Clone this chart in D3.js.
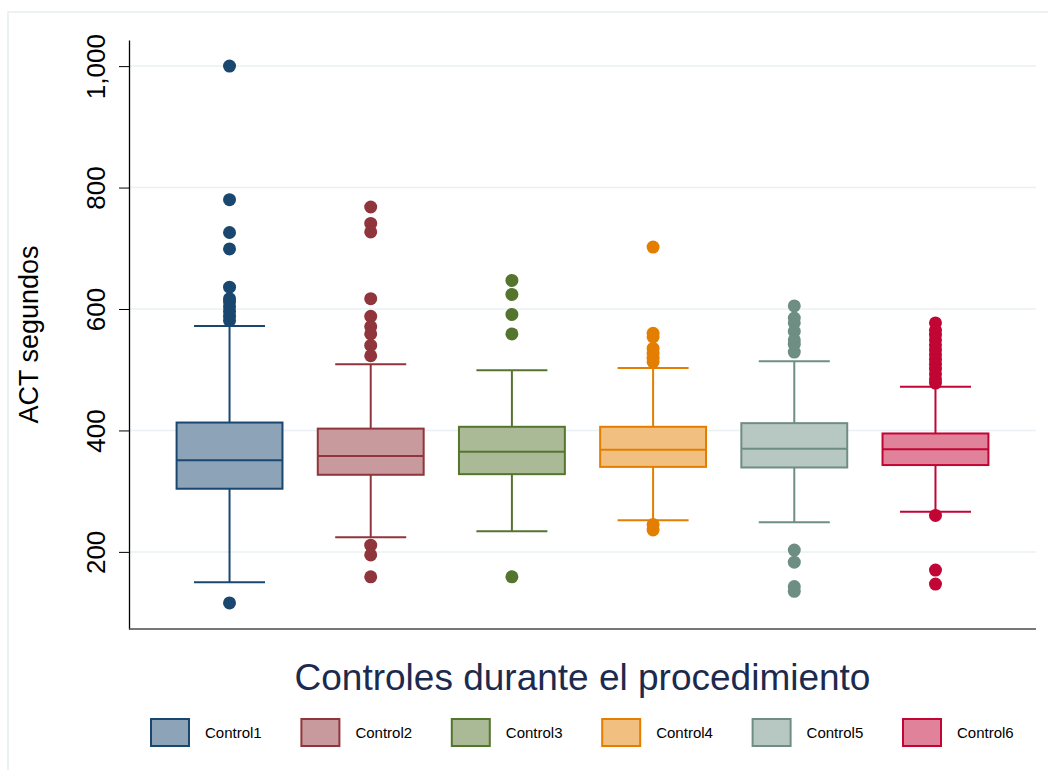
<!DOCTYPE html>
<html>
<head>
<meta charset="utf-8">
<script src="https://cdn.jsdelivr.net/npm/d3@7"></script>
<style>
  body { margin: 0; background: #fff; }
  svg { display: block; font-family: 'Liberation Sans', Arial, sans-serif; }
</style>
</head>
<body>
<div id="chart"></div>
<script>
'use strict';

// groups and colours
const groups = ['Control1', 'Control2', 'Control3', 'Control4', 'Control5', 'Control6'];
const line_colors = ['#1a476f', '#90353b', '#55752f', '#e37e00', '#6e8e84', '#c10534'];

// box statistics (ACT seconds)
const whisker_low = [150, 224, 234, 252, 249, 266];
const q1 = [304, 327, 328, 340, 339, 343];
const median = [351, 358, 365, 368, 370, 369];
const q3 = [413, 403, 406, 406, 412, 395];
const whisker_high = [572, 509, 499, 503, 514, 472];

// outside values
const outliers_c1 = [1000, 780, 726, 699, 636, 617, 612, 604, 596, 588, 581, 116];
const outliers_c2 = [768, 741, 727, 617, 588, 571, 559, 540, 523, 211, 195, 159];
const outliers_c3 = [647, 624, 591, 559, 159];
const outliers_c4 = [702, 560, 554, 535, 527, 519, 513, 245, 236];
const outliers_c5 = [605, 585, 577, 563, 549, 542, 529, 203, 183, 143, 135];
const outliers_c6 = [577, 565, 557, 549, 541, 533, 525, 517, 509, 501, 493, 485, 478, 260, 170, 147];
const outliers = [outliers_c1, outliers_c2, outliers_c3, outliers_c4, outliers_c5, outliers_c6];

const y_ticks = [200, 400, 600, 800, 1000];
const y_domain = [73, 1043];
const x_title = 'Controles durante el procedimiento';
const y_title = 'ACT segundos';

// dimensions
const dimensions = {
  width: 1048,
  height: 770,
  margin: { top: 40, bottom: 141, left: 129, right: 12 }
}
dimensions.ctrWidth = dimensions.width - dimensions.margin.left - dimensions.margin.right
dimensions.ctrHeight = dimensions.height - dimensions.margin.top - dimensions.margin.bottom

const boxes = groups.map((g, i) => {
  return {
    key: g,
    color: line_colors[i],
    fill: d3.interpolateRgb(line_colors[i], '#ffffff')(0.5),
    lo: whisker_low[i], q1: q1[i], med: median[i], q3: q3[i], hi: whisker_high[i],
    out: outliers[i]
  }
})

const svg_el = d3.select('#chart')
  .append('svg')
  .attr('width', dimensions.width)
  .attr('height', dimensions.height)

// outer graph region border (cropped on the right and bottom)
svg_el.append('rect')
  .attr('x', 8)
  .attr('y', 12)
  .attr('width', dimensions.width + 20)
  .attr('height', dimensions.height + 20)
  .attr('fill', 'none')
  .attr('stroke', '#e6edf0')
  .attr('stroke-width', 1.5)

const chart_g = svg_el.append('g')
  .attr('transform', `translate(${dimensions.margin.left}, ${dimensions.margin.top})`)

// scales
const x_scale = d3.scaleBand()
  .domain(groups)
  .range([0, 907])
  .paddingInner(0.25)
  .paddingOuter(0.337)

const y_scale = d3.scaleLinear()
  .domain(y_domain)
  .range([dimensions.ctrHeight, 0])

const cap_w = x_scale.step() * 0.503

// gridlines
chart_g.append('g')
  .selectAll('line')
  .data(y_ticks)
  .join('line')
  .attr('x1', 0)
  .attr('x2', 907)
  .attr('y1', d => y_scale(d))
  .attr('y2', d => y_scale(d))
  .attr('stroke', '#eaf0f3')
  .attr('stroke-width', 1.5)

// boxes
const box_g = chart_g.append('g')
  .selectAll('g')
  .data(boxes)
  .join('g')
  .attr('transform', d => `translate(${x_scale(d.key)},0)`)

const bw = x_scale.bandwidth()

// whiskers
box_g.append('line')
  .attr('x1', bw / 2).attr('x2', bw / 2)
  .attr('y1', d => y_scale(d.q3)).attr('y2', d => y_scale(d.hi))
  .attr('stroke', d => d.color).attr('stroke-width', 2)
box_g.append('line')
  .attr('x1', bw / 2).attr('x2', bw / 2)
  .attr('y1', d => y_scale(d.q1)).attr('y2', d => y_scale(d.lo))
  .attr('stroke', d => d.color).attr('stroke-width', 2)
box_g.append('line')
  .attr('x1', bw / 2 - cap_w / 2).attr('x2', bw / 2 + cap_w / 2)
  .attr('y1', d => y_scale(d.hi)).attr('y2', d => y_scale(d.hi))
  .attr('stroke', d => d.color).attr('stroke-width', 2)
box_g.append('line')
  .attr('x1', bw / 2 - cap_w / 2).attr('x2', bw / 2 + cap_w / 2)
  .attr('y1', d => y_scale(d.lo)).attr('y2', d => y_scale(d.lo))
  .attr('stroke', d => d.color).attr('stroke-width', 2)

// box itself
box_g.append('rect')
  .attr('x', 0)
  .attr('width', bw)
  .attr('y', d => y_scale(d.q3))
  .attr('height', d => y_scale(d.q1) - y_scale(d.q3))
  .attr('fill', d => d.fill)
  .attr('stroke', d => d.color)
  .attr('stroke-width', 2)

// median
box_g.append('line')
  .attr('x1', 0).attr('x2', bw)
  .attr('y1', d => y_scale(d.med)).attr('y2', d => y_scale(d.med))
  .attr('stroke', d => d.color).attr('stroke-width', 2)

// outside values
box_g.selectAll('circle')
  .data(d => d.out.map(v => ({ value: v, color: d.color })))
  .join('circle')
  .attr('cx', bw / 2)
  .attr('cy', d => y_scale(d.value))
  .attr('r', 6.5)
  .attr('fill', d => d.color)

// y axis
const yAxisGroup = chart_g.append('g')
  .call(d3.axisLeft(y_scale).tickValues(y_ticks).tickSize(10).tickSizeOuter(0).tickFormat(d3.format(',')))
yAxisGroup.select('.domain').attr('stroke', '#000').attr('stroke-width', 1.3)
yAxisGroup.selectAll('.tick line').attr('stroke', '#000').attr('stroke-width', 1)
yAxisGroup.selectAll('.tick text')
  .attr('x', null).attr('dy', null)
  .attr('transform', 'translate(-24,0) rotate(-90)')
  .attr('text-anchor', 'middle')
  .attr('fill', '#000')
  .style('font-size', '26px')
  .style('font-family', "'Liberation Sans', Arial, sans-serif")

// x axis line
chart_g.append('line')
  .attr('x1', 0).attr('x2', 907)
  .attr('y1', dimensions.ctrHeight).attr('y2', dimensions.ctrHeight)
  .attr('stroke', '#4a4a4a')
  .attr('stroke-width', 1.5)

// y title
svg_el.append('text')
  .attr('transform', `translate(38, ${dimensions.margin.top + dimensions.ctrHeight / 2}) rotate(-90)`)
  .attr('text-anchor', 'middle')
  .attr('fill', '#000')
  .style('font-size', '27px')
  .text(y_title)

// x title
svg_el.append('text')
  .attr('x', dimensions.margin.left + 907 / 2)
  .attr('y', 690)
  .attr('text-anchor', 'middle')
  .attr('fill', '#1c2a4f')
  .style('font-size', '37px')
  .text(x_title)

// legend
const legendGroup = svg_el.append('g')
  .selectAll('g')
  .data(boxes)
  .join('g')
  .attr('transform', (d, i) => `translate(${151 + i * 150.4}, 719)`)

legendGroup.append('rect')
  .attr('width', 38)
  .attr('height', 27)
  .attr('fill', d => d.fill)
  .attr('stroke', d => d.color)
  .attr('stroke-width', 2)

legendGroup.append('text')
  .attr('x', 54)
  .attr('y', 13.5)
  .attr('dy', '0.35em')
  .attr('fill', '#000')
  .style('font-size', '15px')
  .text(d => d.key)
</script>
</body>
</html>
